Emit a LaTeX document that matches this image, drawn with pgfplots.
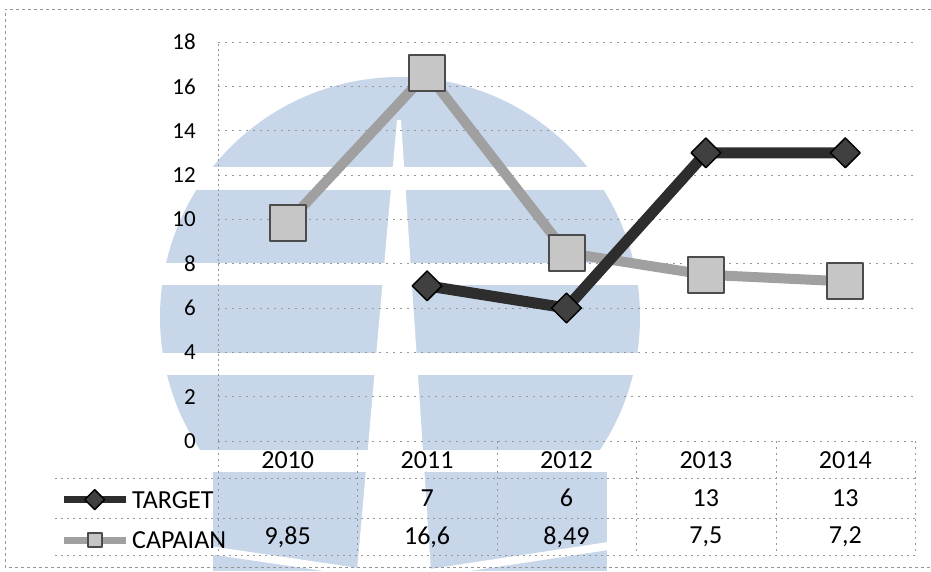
\documentclass[border=0pt]{standalone}
\usepackage{fontspec}
\setmainfont{Carlito}
\usepackage{pgfplots}
\pgfplotsset{compat=1.18}
\definecolor{wm}{RGB}{199,214,233}
\definecolor{tgtcol}{RGB}{45,45,45}
\definecolor{capcol}{RGB}{160,160,160}
\definecolor{capfill}{RGB}{198,198,198}
\definecolor{gridc}{RGB}{150,150,150}
\begin{document}
\begin{tikzpicture}
\path[use as bounding box] (0pt,0pt) rectangle (931pt,571pt);
% watermark (background logo)
\fill[wm] (400pt,254pt) circle (240pt);
\fill[wm] (213pt,0pt) rectangle (607pt,99pt);
\begin{scope}
\fill[white] (0pt,381pt) rectangle (931pt,404pt);
\fill[white] (0pt,286pt) rectangle (931pt,308pt);
\fill[white] (0pt,196pt) rectangle (931pt,218pt);
\fill[white] (0pt,99pt) rectangle (931pt,121pt);
\fill[white] (397pt,451pt) -- (357pt,0pt) -- (431pt,0pt) -- (401pt,451pt) -- cycle;
\draw[white, line width=8pt] (175pt,26pt) -- (365pt,-2pt);
\draw[white, line width=8pt] (430pt,-2pt) -- (615pt,26pt);
\end{scope}
% outer frame
\draw[gridc, dashed, line width=0.7pt] (931pt,562pt) -- (5pt,562pt) -- (5pt,4pt) -- (931pt,4pt);
\begin{axis}[
  at={(218pt,130pt)}, anchor=south west,
  scale only axis, width=697pt, height=399pt,
  xmin=-0.5, xmax=4.5, ymin=0, ymax=18,
  ytick={0,2,...,18}, xtick=\empty,
  axis line style={draw=none},
  major tick length=0pt,
  ymajorgrids,
  grid style={gridc, line width=0.7pt, dash pattern=on 2pt off 5pt},
  tick label style={font=\fontsize{23}{26}\selectfont},
  yticklabel style={inner sep=0pt, xshift=-22pt},
  /pgf/number format/assume math mode=true,
  clip=false,
  reverse legend,
  legend cell align=left,
  legend style={at={(axis description cs:-0.2267,-0.1216)}, anchor=north west,
    draw=none, fill=none, inner sep=0pt, row sep=22pt, column sep=3pt,
    nodes={inner sep=0pt, text height=17pt, text depth=0pt},
    font=\fontsize{26}{30}\selectfont},
  legend image code/.code={\draw[mark repeat=2,mark phase=2] plot coordinates {(0pt,0pt) (31pt,0pt) (62pt,0pt)};},
  legend image post style={line width=7pt, mark size=7pt},
]
\draw[gridc, line width=0.7pt, dash pattern=on 2pt off 3pt] (axis cs:-0.5,0) -- (axis cs:-0.5,18);
\addplot[color=capcol, line width=10pt, line join=round, mark=square*, mark size=18pt,
  mark options={fill=capfill, draw=black!70, line width=2pt, solid}]
  coordinates {(0,9.85) (1,16.6) (2,8.49) (3,7.5) (4,7.2)};
\addlegendentry{CAPAIAN}
\addplot[color=tgtcol, line width=11pt, line join=round, mark=square*, mark size=10.5pt,
  mark options={rotate=45, fill=black!75, draw=black, line width=1.5pt, solid}]
  coordinates {(1,7) (2,6) (3,13) (4,13)};
\addlegendentry{TARGET}
\end{axis}
% data table
\begin{scope}[gridc, line width=0.7pt, dash pattern=on 2pt off 4pt]
\draw (55pt,93pt) -- (915pt,93pt);
\draw (55pt,53pt) -- (915pt,53pt);
\draw (55pt,16pt) -- (915pt,16pt);
\foreach \x in {218,357,497,636,776,915} \draw (\x pt,130pt) -- (\x pt,16pt);
\end{scope}
\begin{scope}[every node/.style={font=\fontsize{26}{30}\selectfont, inner sep=0pt, anchor=center}]
\node at (287.7pt,111pt) {2010};
\node at (427.1pt,111pt) {2011};
\node at (566.5pt,111pt) {2012};
\node at (705.9pt,111pt) {2013};
\node at (845.3pt,111pt) {2014};
\node at (427.1pt,73pt) {7};
\node at (566.5pt,73pt) {6};
\node at (705.9pt,73pt) {13};
\node at (845.3pt,73pt) {13};
\node at (287.7pt,34pt) {9,85};
\node at (427.1pt,34pt) {16,6};
\node at (566.5pt,34pt) {8,49};
\node at (705.9pt,34pt) {7,5};
\node at (845.3pt,34pt) {7,2};
\end{scope}
\end{tikzpicture}
\end{document}
